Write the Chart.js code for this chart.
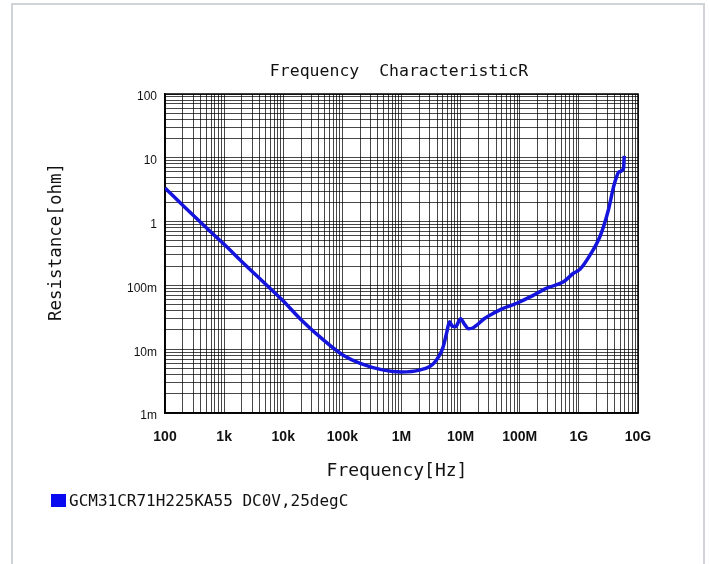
<!DOCTYPE html>
<html lang="en">
<head>
    <meta charset="UTF-8">
    <title>Frequency CharacteristicR</title>
    <script src="https://cdn.jsdelivr.net/npm/chart.js"></script>
    <style>
        html, body { margin: 0; padding: 0; background: #fff; }
        #chart { display: block; }
    </style>
</head>
<body>
    <canvas id="chart" width="709" height="564"></canvas>

    <script>
        // frequency [Hz] and resistance [ohm]
        const freq = [100, 200, 500, 1e3, 2e3, 5e3, 1e4, 2e4, 5e4, 1e5, 2e5, 5e5,
            1e6, 2e6, 3.5e6, 5e6, 5.8e6, 6.5e6, 7.2e6, 8.2e6, 1e7, 1.15e7, 1.36e7, 1.6e7,
            1.9e7, 2.5e7, 3.6e7, 5e7, 8.9e7, 1.5e8, 2.2e8, 3e8, 5.5e8, 8.1e8, 1.05e9,
            1.55e9, 2.3e9, 3.17e9, 3.86e9, 4.4e9, 4.7e9, 5.7e9, 5.84e9];
        const resistance = [3.35, 1.8, 0.8, 0.44, 0.235, 0.105, 0.057, 0.029, 0.0135, 0.0082, 0.006, 0.0047,
            0.0044, 0.0047, 0.006, 0.0105, 0.018, 0.027, 0.023, 0.0225, 0.03, 0.025, 0.021, 0.0215,
            0.024, 0.03, 0.0366, 0.043, 0.0525, 0.066, 0.08, 0.092, 0.114, 0.155, 0.18,
            0.3, 0.6, 1.55, 3.5, 5.2, 6.0, 6.8, 10.7];

        const xTickValues = [1e2, 1e3, 1e4, 1e5, 1e6, 1e7, 1e8, 1e9, 1e10];
        const xTickLabels = ['100', '1k', '10k', '100k', '1M', '10M', '100M', '1G', '10G'];
        const yTickValues = [1e-3, 1e-2, 1e-1, 1, 10, 100];
        const yTickLabels = ['1m', '10m', '100m', '1', '10', '100'];

        const seriesLabel = 'GCM31CR71H225KA55 DC0V,25degC';

        // every 1..9 x 10^n between the decades
        function logGrid(decades) {
            const out = [];
            for (let i = 0; i < decades.length; i++) {
                const d = decades[i];
                out.push({ value: d });
                if (i < decades.length - 1) {
                    for (let m = 2; m <= 9; m++) out.push({ value: d * m });
                }
            }
            return out;
        }

        function labelFor(values, labels) {
            return function (value) {
                for (let i = 0; i < values.length; i++) {
                    if (Math.abs(value / values[i] - 1) < 1e-6) return labels[i];
                }
                return '';
            };
        }

        const pagePlugin = {
            id: 'page',
            beforeDraw(chart) {
                const ctx = chart.ctx;
                ctx.save();
                ctx.fillStyle = '#fff';
                ctx.fillRect(0, 0, chart.width, chart.height);
                ctx.strokeStyle = '#d0d4d8';
                ctx.lineWidth = 2;
                ctx.strokeRect(12, 4, 692, 700);
                ctx.restore();
            },
            beforeDatasetsDraw(chart) {
                const a = chart.chartArea;
                const ctx = chart.ctx;
                ctx.save();
                ctx.strokeStyle = '#000';
                ctx.lineWidth = 1.5;
                ctx.strokeRect(a.left, a.top, a.right - a.left, a.bottom - a.top);
                ctx.restore();
            },
            afterDraw(chart) {
                const ctx = chart.ctx;
                ctx.save();
                ctx.fillStyle = '#111';
                ctx.textAlign = 'center';
                ctx.textBaseline = 'middle';
                ctx.font = '16.5px "DejaVu Sans Mono"';
                ctx.fillText('Frequency  CharacteristicR', 399, 72);

                ctx.font = '18px "DejaVu Sans Mono"';
                ctx.fillText('Frequency[Hz]', 397, 471);

                ctx.save();
                ctx.translate(56, 242);
                ctx.rotate(-Math.PI / 2);
                ctx.font = '17.5px "DejaVu Sans Mono"';
                ctx.fillText('Resistance[ohm]', 0, 0);
                ctx.restore();

                // legend
                ctx.fillStyle = '#0a0af0';
                ctx.fillRect(51, 494, 15, 13);
                ctx.fillStyle = '#111';
                ctx.textAlign = 'left';
                ctx.font = '16px "DejaVu Sans Mono"';
                ctx.fillText(seriesLabel, 69, 502);
                ctx.restore();
            }
        };

        const gridStyle = { color: 'rgba(0,0,0,0.72)', lineWidth: 1, drawTicks: false };

        new Chart(document.getElementById('chart'), {
            type: 'line',
            data: {
                datasets: [{
                    label: seriesLabel,
                    data: freq.map((f, i) => ({ x: f, y: resistance[i] })),
                    borderColor: '#1414dc',
                    borderWidth: 3.5,
                    pointRadius: 0,
                    cubicInterpolationMode: 'monotone',
                    fill: false
                }]
            },
            options: {
                responsive: false,
                devicePixelRatio: 1,
                animation: false,
                layout: { padding: { top: 94, right: 71, left: 0, bottom: 0 } },
                plugins: {
                    legend: { display: false },
                    title: { display: false },
                    tooltip: { enabled: false }
                },
                scales: {
                    x: {
                        type: 'logarithmic',
                        min: 1e2,
                        max: 1e10,
                        grid: gridStyle,
                        border: { color: '#000', width: 1.5 },
                        afterBuildTicks(scale) { scale.ticks = logGrid(xTickValues); },
                        afterFit(scale) { scale.height = 151; },
                        ticks: {
                            autoSkip: false,
                            maxRotation: 0,
                            padding: 16,
                            color: '#111',
                            font: { family: '"Liberation Sans"', size: 14, weight: 'bold' },
                            callback: labelFor(xTickValues, xTickLabels)
                        }
                    },
                    y: {
                        type: 'logarithmic',
                        min: 1e-3,
                        max: 100,
                        grid: gridStyle,
                        border: { color: '#000', width: 1.5 },
                        afterBuildTicks(scale) { scale.ticks = logGrid(yTickValues); },
                        afterFit(scale) { scale.width = 165; },
                        ticks: {
                            autoSkip: false,
                            padding: 8,
                            labelOffset: 3,
                            color: '#111',
                            font: { family: '"Liberation Sans"', size: 12 },
                            callback: labelFor(yTickValues, yTickLabels)
                        }
                    }
                }
            },
            plugins: [pagePlugin]
        });
    </script>
</body>
</html>
